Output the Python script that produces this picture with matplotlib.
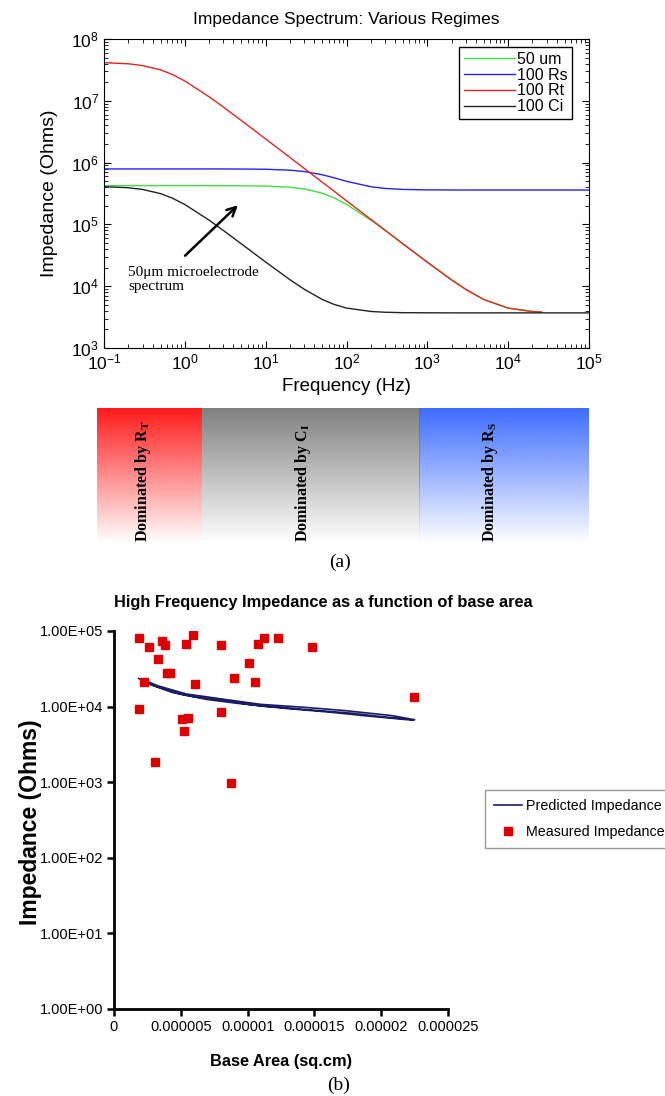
import numpy as np
import matplotlib
matplotlib.use('Agg')
import matplotlib.pyplot as plt
from matplotlib.ticker import FuncFormatter, LogLocator, NullLocator
from matplotlib.colors import to_rgb

plt.rcParams['font.family'] = ['Liberation Sans', 'DejaVu Sans']

# ---- panel (a): impedance spectra ----
freq = [0.1, 0.2, 0.3, 0.5, 0.7, 1, 2, 3, 5, 10, 20, 30, 50, 70, 100, 200, 300,
        500, 1e3, 2e3, 3e3, 5e3, 1e4, 2e4, 2.6e4]
freq_ext = freq + [1e5]

z_50um = [4.24e5, 4.24e5, 4.24e5, 4.24e5, 4.24e5, 4.24e5, 4.23e5, 4.23e5, 4.22e5,
          4.17e5, 4.0e5, 3.75e5, 3.2e5, 2.69e5, 2.11e5, 1.17e5, 8.0e4, 4.85e4,
          2.46e4, 1.27e4, 8.87e3, 6.08e3, 4.42e3, 3.89e3, 3.81e3]
z_rs = [7.9e5, 7.9e5, 7.9e5, 7.9e5, 7.9e5, 7.9e5, 7.9e5, 7.89e5, 7.87e5, 7.8e5,
        7.54e5, 7.17e5, 6.36e5, 5.68e5, 4.98e5, 4.07e5, 3.82e5, 3.68e5, 3.62e5,
        3.605e5, 3.6e5, 3.6e5, 3.6e5, 3.6e5, 3.6e5, 3.6e5]
z_rt = [4.14e7, 3.97e7, 3.72e7, 3.17e7, 2.67e7, 2.09e7, 1.16e7, 7.9e6, 4.8e6,
        2.41e6, 1.21e6, 8.05e5, 4.83e5, 3.45e5, 2.41e5, 1.21e5, 8.05e4, 4.84e4,
        2.44e4, 1.26e4, 8.86e3, 6.08e3, 4.42e3, 3.89e3, 3.81e3]
z_ci = [4.08e5, 3.92e5, 3.68e5, 3.15e5, 2.66e5, 2.1e5, 1.17e5, 7.97e4, 4.85e4,
        2.46e4, 1.27e4, 8.92e3, 6.11e3, 5.08e3, 4.43e3, 3.9e3, 3.79e3, 3.73e3,
        3.71e3, 3.7e3, 3.7e3, 3.7e3, 3.7e3, 3.7e3, 3.7e3, 3.7e3]

regimes = ['Dominated by R$_\\mathregular{T}$', 'Dominated by C$_\\mathregular{I}$',
           'Dominated by R$_\\mathregular{S}$']
regime_colors = ['#ff1a1a', '#808080', '#3c6cff']

# ---- panel (b): high frequency impedance vs base area ----
meas_area = [1.85e-6, 2.65e-6, 3.57e-6, 3.84e-6, 3.32e-6, 3.98e-6, 4.2e-6, 5.41e-6,
             5.91e-6, 6.09e-6, 2.25e-6, 1.89e-6, 3.09e-6, 5.07e-6, 5.56e-6, 5.24e-6,
             7.98e-6, 7.98e-6, 8.73e-6, 8.98e-6, 1.008e-5, 1.055e-5, 1.075e-5,
             1.123e-5, 1.225e-5, 1.482e-5, 2.248e-5]
meas_imp = [8.1e4, 6.2e4, 7.4e4, 6.5e4, 4.3e4, 2.75e4, 2.75e4, 6.8e4,
            8.9e4, 2.0e4, 2.1e4, 9.3e3, 1.83e3, 6.8e3, 7.1e3, 4.75e3,
            6.5e4, 8.6e3, 9.8e2, 2.4e4, 3.8e4, 2.1e4, 6.7e4,
            8.1e4, 8.1e4, 6.2e4, 1.34e4]

pred_area = [1.85e-6, 2.25e-6, 2.65e-6, 3.1e-6, 3.6e-6, 4.1e-6, 5.1e-6, 5.6e-6,
             6.1e-6, 8.0e-6, 8.9e-6, 1.01e-5, 1.12e-5, 1.23e-5, 1.48e-5, 1.77e-5,
             2.02e-5, 2.25e-5,
             2.08e-5, 1.73e-5, 1.42e-5, 1.10e-5, 8.5e-6, 5.4e-6, 3.3e-6, 2.0e-6,
             2.3e-6, 4.4e-6, 7.0e-6, 9.5e-6, 1.30e-5, 1.60e-5, 1.90e-5, 2.24e-5]
pred_imp = [2.36e4, 2.15e4, 2.0e4, 1.87e4, 1.74e4, 1.63e4, 1.45e4, 1.39e4,
            1.34e4, 1.21e4, 1.15e4, 1.07e4, 1.01e4, 9.8e3, 9.0e3, 8.2e3,
            7.3e3, 6.7e3,
            7.6e3, 8.85e3, 9.8e3, 1.07e4, 1.23e4, 1.47e4, 1.88e4, 2.34e4,
            2.08e4, 1.53e4, 1.24e4, 1.09e4, 9.4e3, 8.5e3, 7.5e3, 6.6e3]

W, H = 665, 1096
fig = plt.figure(figsize=(W / 100, H / 100), dpi=100)


def box(x0, y0, x1, y1):
    # pixel box (top-left origin) -> figure fraction rect
    return [x0 / W, 1 - y1 / H, (x1 - x0) / W, (y1 - y0) / H]


ax1 = fig.add_axes(box(104, 39, 589, 348))
ax1.loglog(freq, z_50um, color='#3ee03e', lw=1.0, label='50 um')
ax1.loglog(freq_ext, z_rs, color='#2424f0', lw=1.0, label='100 Rs')
ax1.loglog(freq, z_rt, color='#e82222', lw=1.0, label='100 Rt')
ax1.loglog(freq_ext, z_ci, color='#222222', lw=1.0, label='100 Ci')
ax1.set_xlim(0.1, 1e5)
ax1.set_ylim(1e3, 1e8)
ax1.tick_params(which='both', direction='in', top=True, right=True, labelsize=12.5)
ax1.tick_params(which='major', length=5)
ax1.tick_params(which='minor', length=3)
ax1.xaxis.set_major_locator(LogLocator(base=10, numticks=10))
ax1.xaxis.set_minor_locator(LogLocator(base=10, subs=np.arange(2, 10), numticks=10))
ax1.set_title('Impedance Spectrum: Various Regimes', fontsize=12.5, pad=11)
ax1.set_xlabel('Frequency (Hz)', fontsize=13.5, labelpad=4)
ax1.set_ylabel('Impedance (Ohms)', fontsize=14)
ax1.yaxis.set_label_coords(-0.094, 0.5)
ax1.legend(loc='upper right', bbox_to_anchor=(572 / W, 1 - 47 / H),
           bbox_transform=fig.transFigure, borderaxespad=0, fancybox=False,
           edgecolor='black', framealpha=1, fontsize=11.5, handlelength=3.2,
           handletextpad=0.1, borderpad=0.3, labelspacing=0.05)
ax1.annotate('', xy=(4.8, 2.2e5), xytext=(0.95, 2.9e4),
             arrowprops=dict(arrowstyle='->', lw=1.8, color='black', mutation_scale=16))
ax1.text(0.2, 2.1e4, '50\u03bcm microelectrode\nspectrum', family='Liberation Serif',
         fontsize=11, va='top', ha='left', linespacing=1.05)

# gradient regime bar
axg = fig.add_axes(box(97, 408, 589, 543))
axg.set_xlim(0, 1)
axg.set_ylim(0, 1)
axg.axis('off')
edges = [0, 0.2134, 0.6545, 1]
text_x = [0.0935, 0.4187, 0.7988]
fade = np.linspace(0.0, 1.0, 200)[:, None]
for i, (lab, col) in enumerate(zip(regimes, regime_colors)):
    img = np.ones((200, 1, 4))
    img[:, 0, :3] = to_rgb(col)
    img[:, :, 3] = fade
    axg.imshow(img, extent=[edges[i], edges[i + 1], 0, 1], aspect='auto',
               origin='lower', interpolation='bilinear')
    axg.text(text_x[i], 0.01, lab, rotation=90, ha='center', va='bottom',
             family='Liberation Serif', fontweight='bold', fontsize=11.5)

fig.text(340 / W, 1 - 562 / H, '(a)', ha='center', va='center',
         family='Liberation Serif', fontsize=14)

# ---- panel (b) ----
ax2 = fig.add_axes(box(114, 631, 448, 1009))
ax2.plot(pred_area, pred_imp, color='#1c1c64', lw=1.2, label='Predicted Impedance')
ax2.plot(meas_area, meas_imp, 's', color='#dd0000', ms=5.5, ls='none',
         label='Measured Impedance')
ax2.set_yscale('log')
ax2.set_ylim(1, 1e5)
ax2.set_xlim(0, 2.5e-5)
ax2.set_xticks([0, 5e-6, 1e-5, 1.5e-5, 2e-5, 2.5e-5])
ax2.yaxis.set_minor_locator(NullLocator())
ax2.yaxis.set_major_formatter(FuncFormatter(lambda v, p: f'{v:.2E}'))
ax2.xaxis.set_major_formatter(
    FuncFormatter(lambda v, p: f'{v:.6f}'.rstrip('0').rstrip('.')))
for s in ['top', 'right']:
    ax2.spines[s].set_visible(False)
for s in ['left', 'bottom']:
    ax2.spines[s].set_linewidth(2)
ax2.tick_params(direction='out', length=5, width=1.8, labelsize=10.5, pad=3)
fig.text(323 / W, 1 - 602 / H, 'High Frequency Impedance as a function of base area',
         ha='center', va='center', fontsize=11.8, fontweight='bold')
ax2.set_xlabel('Base Area (sq.cm)', fontsize=11.8, fontweight='bold', labelpad=14)
fig.text(31 / W, 1 - 822 / H, 'Impedance (Ohms)', rotation=90, ha='center',
         va='center', fontsize=16.5, fontweight='bold')
ax2.legend(loc='upper left', bbox_to_anchor=(485 / W, 1 - 790 / H),
           bbox_transform=fig.transFigure, borderaxespad=0, fancybox=False,
           edgecolor='#999999', framealpha=1, fontsize=10.3,
           handlelength=2.0, handletextpad=0.3, borderpad=0.6, labelspacing=0.9)

fig.text(339 / W, 1 - 1085 / H, '(b)', ha='center', va='center',
         family='Liberation Serif', fontsize=14)

fig.savefig('out.png', dpi=100)
